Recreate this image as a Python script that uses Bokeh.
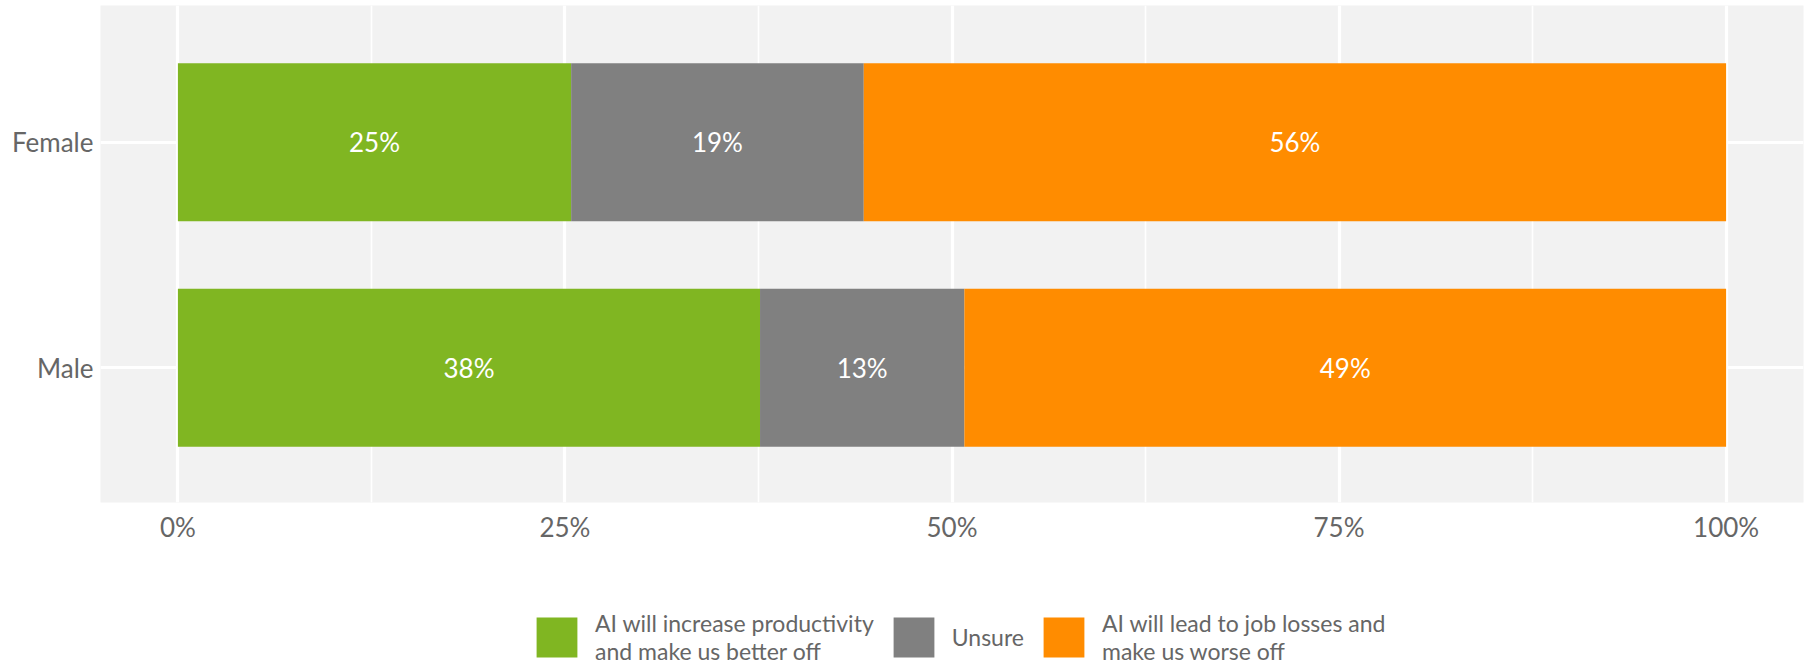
from bokeh.plotting import figure
from bokeh.models import FixedTicker, Legend, LegendItem, ColumnDataSource
from bokeh.layouts import column
from bokeh.core.properties import value
from bokeh.embed import file_html
from bokeh.resources import INLINE

# ---- data ----
categories = ["Male", "Female"]
positive = [37.6, 25.4]   # AI will increase productivity and make us better off
unsure = [13.2, 18.9]     # Unsure
negative = [49.2, 55.7]   # AI will lead to job losses and make us worse off
series_names = [
    "AI will increase productivity\nand make us better off",
    "Unsure",
    "AI will lead to job losses and\nmake us worse off",
]
series_colors = ["#80b622", "#808080", "#ff8c00"]
x_ticks = [0, 25, 50, 75, 100]
x_minor_ticks = [12.5, 37.5, 62.5, 87.5]
x_tick_labels = ["0%", "25%", "50%", "75%", "100%"]

FONT = "Lato"
TEXT_COLOR = "#666666"

ypos = [i + 1 for i in range(len(categories))]

p = figure(
    width=1808, height=545,
    x_range=(-5, 105), y_range=(0.403, 2.606),
    output_backend="svg", toolbar_location=None,
    min_border_left=100, min_border_right=5, min_border_top=5, min_border_bottom=42,
)
p.background_fill_color = "#f2f2f2"
p.border_fill_color = "white"
p.outline_line_color = None

series = [positive, unsure, negative]
renderers = []
lefts = [0.0] * len(categories)
for vals, col in zip(series, series_colors):
    rights = [l + v for l, v in zip(lefts, vals)]
    src = ColumnDataSource(dict(
        y=ypos, left=lefts, right=rights,
        xc=[(l + r) / 2 for l, r in zip(lefts, rights)],
        lab=[f"{round(v)}%" for v in vals],
    ))
    r = p.hbar(y="y", left="left", right="right", height=0.7, source=src,
               fill_color=col, line_color=None)
    p.text(x="xc", y="y", text="lab", source=src, text_align="center",
           text_baseline="middle", text_color="white",
           text_font=value(FONT), text_font_size="26px")
    renderers.append(r)
    lefts = rights

# axes
p.xaxis.ticker = FixedTicker(ticks=x_ticks, minor_ticks=x_minor_ticks)
p.xaxis.major_label_overrides = {t: l for t, l in zip(x_ticks, x_tick_labels)}
p.yaxis.ticker = FixedTicker(ticks=ypos)
p.yaxis.major_label_overrides = {y: c for y, c in zip(ypos, categories)}
for ax in (p.xaxis[0], p.yaxis[0]):
    ax.axis_line_color = None
    ax.major_tick_line_color = None
    ax.minor_tick_line_color = None
    ax.major_tick_out = 0
    ax.major_tick_in = 0
    ax.minor_tick_out = 0
    ax.minor_tick_in = 0
    ax.major_label_text_font = FONT
    ax.major_label_text_font_size = "26px"
    ax.major_label_text_color = TEXT_COLOR
p.xaxis.major_label_standoff = 8
p.yaxis.major_label_standoff = 7

# grid
p.xgrid.grid_line_color = "white"
p.xgrid.grid_line_width = 3.2
p.xgrid.minor_grid_line_color = "white"
p.xgrid.minor_grid_line_width = 1.6
p.ygrid.grid_line_color = "white"
p.ygrid.grid_line_width = 3.2

# ---- legend strip below the chart ----
p2 = figure(
    width=1808, height=119, x_range=(0, 1), y_range=(0, 1),
    output_backend="svg", toolbar_location=None,
    min_border_left=0, min_border_right=0, min_border_top=0, min_border_bottom=0,
)
p2.axis.visible = False
p2.grid.visible = False
p2.outline_line_color = None
p2.background_fill_color = "white"
# legend-key proxies (placed outside the visible range)
key_renderers = [
    p2.rect(x=[-5], y=[-5], width=1, height=1, fill_color=c, line_color=None)
    for c in series_colors
]
legend = Legend(
    items=[LegendItem(label=n, renderers=[r]) for n, r in zip(series_names, key_renderers)],
    orientation="horizontal", location=(431, -1),
    glyph_width=51, glyph_height=50, label_standoff=13, spacing=14,
    padding=0, margin=0, border_line_color=None, background_fill_alpha=0,
    label_text_font=FONT, label_text_font_size="23px", label_text_color=TEXT_COLOR,
    label_text_line_height=0.7,
)
p2.add_layout(legend, "center")

open("out.html", "w").write(file_html(column(p, p2, spacing=0), INLINE))
